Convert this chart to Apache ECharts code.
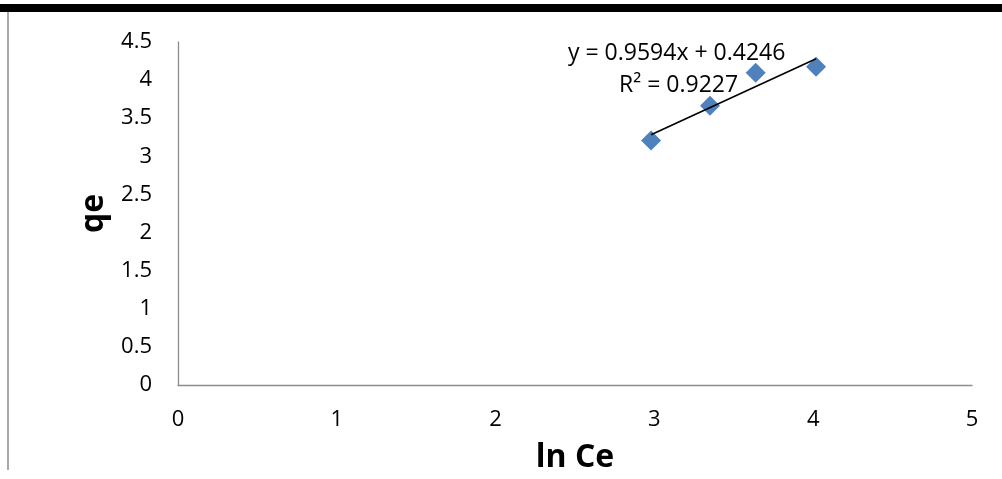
<!DOCTYPE html>
<html><head><meta charset="utf-8">
<script src="https://cdn.jsdelivr.net/npm/echarts@6/dist/echarts.min.js"></script>
<style>html,body{margin:0;padding:0;background:#fff}#c{width:1002px;height:479px}</style>
</head><body><div id="c"></div>
<script>
var lnCe = [2.979, 3.350, 3.638, 4.018];
var qe = [3.207, 3.663, 4.096, 4.174];
var xTicks = [0, 1, 2, 3, 4, 5];
var yTicks = [0, 0.5, 1, 1.5, 2, 2.5, 3, 3.5, 4, 4.5];
var slope = 0.9594, intercept = 0.4246, r2 = 0.9227;

var pts = lnCe.map(function (x, i) { return [x, qe[i]]; });
var xmin = Math.min.apply(null, lnCe), xmax = Math.max.apply(null, lnCe);
var trend = [[xmin, slope * xmin + intercept], [xmax, slope * xmax + intercept]];
var F = '"Open Sans", "Liberation Sans", sans-serif';

var chart = echarts.init(document.getElementById('c'));
chart.setOption({
  animation: false,
  grid: { left: 178, right: 30, top: 42, bottom: 92 },
  xAxis: {
    type: 'value', min: 0, max: 5, interval: 1,
    name: 'ln Ce', nameLocation: 'middle', nameGap: 57,
    nameTextStyle: { fontFamily: F, fontSize: 32, fontWeight: 'bold', color: '#000' },
    axisLine: { show: true, lineStyle: { color: '#8c8c8c', width: 1.3 } },
    axisTick: { show: false }, splitLine: { show: false },
    axisLabel: { fontFamily: F, fontSize: 22, color: '#000', margin: 24,
      formatter: function (v) { return xTicks.indexOf(v) >= 0 ? String(v) : ''; } }
  },
  yAxis: {
    type: 'value', min: 0, max: 4.5, interval: 0.5,
    name: 'qe', nameLocation: 'middle', nameGap: 67,
    nameTextStyle: { fontFamily: F, fontSize: 32, fontWeight: 'bold', color: '#000' },
    axisLine: { show: true, lineStyle: { color: '#8c8c8c', width: 1.3 } },
    axisTick: { show: false }, splitLine: { show: false },
    axisLabel: { fontFamily: F, fontSize: 22, color: '#000', margin: 26,
      formatter: function (v) { return yTicks.indexOf(v) >= 0 ? String(v) : ''; } }
  },
  graphic: [
    { type: 'rect', shape: { x: 0, y: 4, width: 1002, height: 8 }, style: { fill: '#000' } },
    { type: 'line', shape: { x1: 8, y1: 12, x2: 8, y2: 470 }, style: { stroke: '#8c8c8c', lineWidth: 1.5 } },
    { type: 'text', left: 568, top: 42, style: { text: 'y = ' + slope + 'x + ' + intercept, font: '23px ' + F, fill: '#000' } },
    { type: 'text', left: 619, top: 74, style: { text: 'R² = ' + r2, font: '23px ' + F, fill: '#000' } }
  ],
  series: [
    { type: 'scatter', data: pts, symbol: 'diamond', symbolSize: 20,
      itemStyle: { color: '#4f81bd', opacity: 1 }, z: 3 },
    { type: 'line', data: trend, symbol: 'none', lineStyle: { color: '#000', width: 1.6 }, z: 4 }
  ]
});
</script></body></html>
